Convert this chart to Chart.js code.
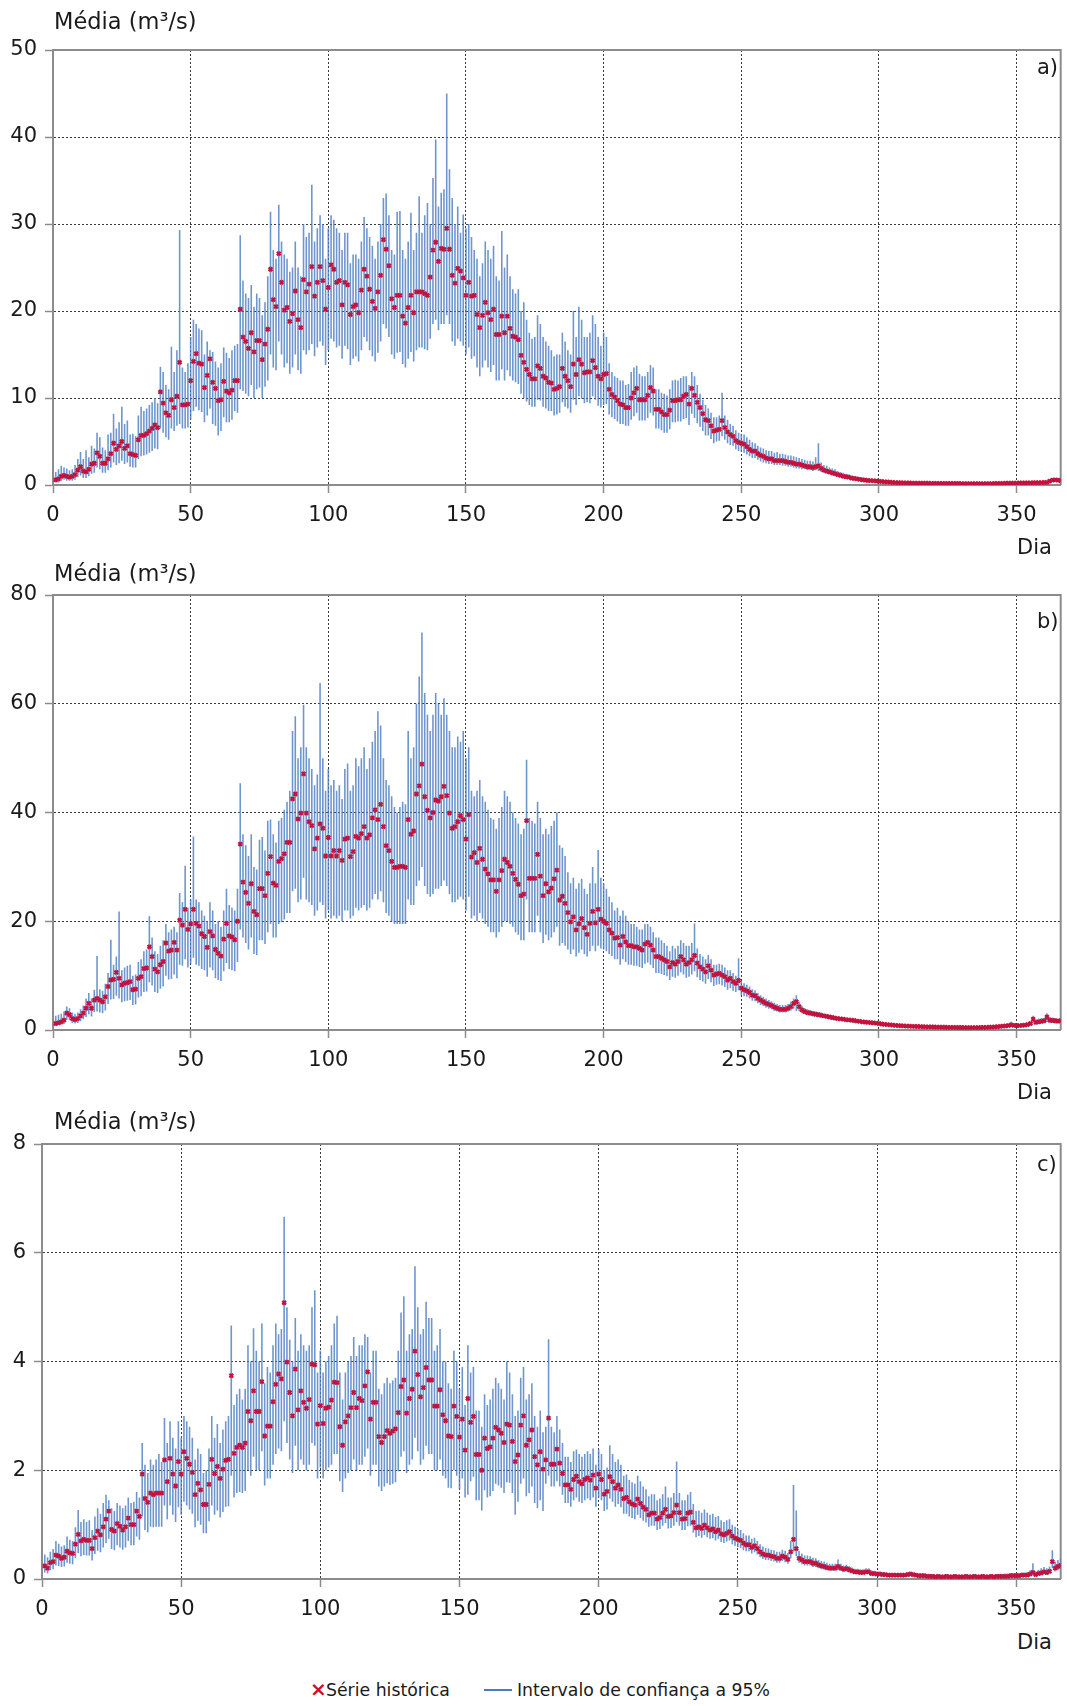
<!DOCTYPE html>
<html>
<head>
<meta charset="utf-8">
<script src="https://cdn.jsdelivr.net/npm/chart.js@4.4.1/dist/chart.umd.min.js"></script>
<style>
html,body{margin:0;padding:0;background:#fff;}
#page{position:relative;width:1067px;height:1706px;overflow:hidden;background:#fff;font-family:"DejaVu Sans",sans-serif;color:#1a1a1a;}
canvas{position:absolute;left:0;}
.lbl{position:absolute;white-space:nowrap;font-size:21px;line-height:21px;}
.ttl{position:absolute;white-space:nowrap;font-size:22.5px;line-height:22px;}
.leg{position:absolute;white-space:nowrap;font-size:17.3px;line-height:18px;}
</style>
</head>
<body>
<div id="page">
<canvas id="ca" width="1067" height="525" style="top:0px"></canvas>
<canvas id="cb" width="1067" height="525" style="top:545px"></canvas>
<canvas id="cc" width="1067" height="525" style="top:1094px"></canvas>

<div class="ttl" style="left:54px;top:10px">Média (m³/s)</div>
<div class="lbl" style="left:1017px;top:537px">Dia</div>
<div class="lbl" style="left:1037px;top:57px">a)</div>

<div class="ttl" style="left:54px;top:562px">Média (m³/s)</div>
<div class="lbl" style="left:1017px;top:1082px">Dia</div>
<div class="lbl" style="left:1037px;top:611px">b)</div>

<div class="ttl" style="left:54px;top:1110px">Média (m³/s)</div>
<div class="lbl" style="left:1017px;top:1632px">Dia</div>
<div class="lbl" style="left:1037px;top:1154px">c)</div>

<div class="leg" style="left:310px;top:1679px;color:#d0101e;font-weight:bold;font-size:20px;line-height:20px">×</div>
<div class="leg" style="left:326px;top:1681px">Série histórica</div>
<div style="position:absolute;left:484px;top:1689px;width:28px;height:2px;background:#4a7cc0"></div>
<div class="leg" style="left:517px;top:1681px">Intervalo de confiança a 95%</div>
</div>

<script>
// ---------- Panel a) : mean, lower and upper 95% CI (m3/s), days 1..366 ----------
const aMean = [
0.6,0.7,1.0,1.1,1.0,0.9,1.0,1.2,1.7,2.1,
1.6,1.5,1.8,2.4,2.5,3.7,3.3,2.5,2.5,3.0,
3.6,4.8,4.1,4.5,5.0,4.2,4.5,3.6,3.5,3.4,
5.2,5.7,5.7,5.9,6.2,6.5,6.9,6.6,10.7,9.4,
8.3,8.0,9.8,8.9,10.2,14.1,9.2,9.2,9.3,12.0,
14.2,15.1,14.0,13.9,11.2,12.6,14.5,11.8,11.1,9.7,
9.8,11.9,10.8,10.6,10.9,12.0,12.0,20.2,17.0,16.5,
15.7,17.5,15.3,16.6,16.6,14.4,16.2,17.9,24.8,21.3,
20.5,26.6,23.3,20.1,20.4,18.8,19.7,22.3,19.0,18.1,
23.6,22.2,23.1,25.1,21.7,23.3,25.1,23.5,20.2,22.7,
25.3,24.8,23.3,23.5,20.7,23.3,23.0,19.6,20.5,20.7,
19.8,22.4,24.8,24.0,22.5,21.1,20.3,22.2,24.1,28.2,
27.1,25.2,21.4,20.4,21.8,21.8,19.4,18.6,20.4,21.8,
19.8,22.2,22.2,22.2,22.0,21.8,23.9,27.0,27.9,25.7,
27.2,27.1,29.5,27.1,24.1,23.2,24.9,24.6,23.8,21.8,
23.3,21.7,21.8,19.6,18.1,19.5,21.0,19.8,19.0,20.2,
17.3,17.3,19.4,17.5,19.4,18.0,17.1,17.0,16.7,14.9,
14.1,13.3,12.7,12.2,12.2,13.7,13.4,12.5,12.3,11.8,
11.7,11.0,11.1,11.3,13.4,12.5,12.0,11.3,13.9,12.7,
14.4,13.9,12.9,13.0,13.0,14.3,13.5,12.5,12.2,12.7,
12.8,11.0,10.4,10.1,9.7,9.3,9.2,8.9,8.9,10.0,
10.6,11.1,9.8,9.8,9.8,10.3,11.2,10.8,8.7,8.7,
8.4,8.1,8.1,8.6,9.7,9.7,9.8,9.8,10.2,10.4,
9.3,11.1,10.3,9.5,8.9,8.2,7.5,7.4,6.8,6.2,
6.3,6.4,7.4,6.6,6.1,5.8,5.6,5.1,4.9,4.8,
4.7,4.4,4.1,3.9,3.9,3.6,3.4,3.3,3.1,3.0,
3.0,2.8,2.8,2.8,2.8,2.7,2.6,2.6,2.5,2.4,
2.4,2.3,2.2,2.1,2.1,2.0,2.1,2.2,1.9,1.7,
1.6,1.5,1.4,1.3,1.2,1.1,1.0,0.95,0.9,0.8,
0.75,0.7,0.65,0.6,0.55,0.52,0.5,0.48,0.46,0.42,
0.4,0.37,0.35,0.32,0.3,0.28,0.27,0.26,0.25,0.24,
0.23,0.22,0.22,0.21,0.21,0.2,0.2,0.2,0.19,0.19,
0.19,0.18,0.18,0.18,0.18,0.17,0.17,0.17,0.17,0.16,
0.16,0.16,0.16,0.15,0.15,0.15,0.15,0.15,0.16,0.16,
0.16,0.17,0.17,0.18,0.19,0.2,0.2,0.21,0.22,0.22,
0.23,0.23,0.24,0.25,0.25,0.26,0.27,0.27,0.28,0.29,
0.3,0.45,0.55,0.58,0.56,0.5];
const aLow = [
0.3,0.3,0.5,0.6,0.5,0.5,0.5,0.6,0.9,1.1,
0.8,0.8,1.0,1.3,1.4,2.0,1.8,1.4,1.4,1.7,
2.0,2.6,2.3,2.5,2.8,2.4,2.6,2.1,2.0,2.0,
3.0,3.3,3.4,3.5,3.7,3.9,4.2,4.1,6.5,6.0,
5.5,5.2,6.5,6.2,6.8,7.0,6.5,6.5,6.6,7.5,
8.5,9.0,8.6,8.4,7.2,8.0,8.8,7.0,6.8,5.7,
6.2,7.8,7.2,7.2,7.5,8.5,8.3,11.0,10.8,10.5,
10.2,11.5,10.0,11.0,11.2,10.0,11.3,12.0,15.0,13.5,
13.2,16.5,15.0,13.5,14.0,12.8,13.5,15.0,13.2,12.8,
15.5,15.0,15.5,16.2,14.8,15.8,16.5,16.0,13.8,15.5,
16.8,16.5,15.8,16.0,14.5,16.0,15.6,13.8,14.5,14.8,
14.2,15.5,17.0,16.5,15.5,14.8,14.2,15.2,16.5,18.5,
18.0,17.0,15.0,14.5,15.2,15.3,13.9,13.5,14.5,15.3,
14.2,15.5,15.8,15.8,15.6,15.5,16.8,18.5,19.0,17.8,
18.5,18.5,19.5,18.5,16.5,16.0,16.8,16.5,16.0,15.0,
15.8,14.5,14.8,13.5,12.5,13.5,14.3,13.5,13.0,13.8,
12.0,12.0,13.3,12.0,13.2,12.5,12.0,11.8,11.6,10.5,
10.0,9.6,9.2,9.0,9.0,9.8,9.7,9.0,8.8,8.5,
8.5,8.0,8.1,8.3,9.5,9.0,8.8,8.3,9.8,9.2,
10.2,9.9,9.4,9.5,9.4,10.2,9.8,9.1,8.9,9.2,
9.3,8.1,7.8,7.6,7.3,7.0,7.0,6.8,6.8,7.5,
7.9,8.3,7.4,7.4,7.4,7.7,8.3,8.0,6.5,6.5,
6.3,6.0,6.0,6.4,7.2,7.2,7.3,7.3,7.6,7.7,
6.9,8.2,7.7,7.1,6.7,6.2,5.7,5.7,5.3,4.8,
5.0,5.1,5.6,5.2,4.8,4.6,4.5,4.1,3.9,3.8,
3.7,3.5,3.3,3.1,3.1,2.9,2.7,2.6,2.5,2.4,
2.4,2.3,2.3,2.3,2.2,2.2,2.1,2.1,2.0,1.9,
1.9,1.8,1.8,1.7,1.7,1.6,1.7,1.6,1.5,1.4,
1.3,1.2,1.1,1.0,0.95,0.88,0.8,0.75,0.7,0.65,
0.6,0.56,0.52,0.48,0.44,0.42,0.4,0.38,0.36,0.33,
0.31,0.29,0.27,0.25,0.23,0.22,0.21,0.2,0.19,0.18,
0.17,0.17,0.16,0.16,0.15,0.15,0.15,0.14,0.14,0.14,
0.13,0.13,0.13,0.13,0.13,0.12,0.12,0.12,0.12,0.11,
0.11,0.11,0.11,0.1,0.1,0.1,0.1,0.1,0.11,0.11,
0.11,0.12,0.12,0.13,0.14,0.14,0.15,0.15,0.16,0.16,
0.17,0.17,0.18,0.18,0.19,0.19,0.2,0.2,0.21,0.22,
0.23,0.32,0.4,0.42,0.4,0.36];
const aHigh = [
1.5,1.8,2.2,2.0,1.9,1.7,1.8,2.3,3.0,3.8,
3.0,4.0,3.2,4.5,4.2,6.0,5.5,4.3,4.0,5.8,
6.0,8.2,6.5,7.2,9.0,7.0,7.4,5.8,5.9,5.6,
8.0,9.0,8.5,8.8,9.2,9.5,10.0,9.4,13.6,13.0,
11.5,11.0,15.9,13.0,15.5,29.3,13.5,13.0,14.0,17.0,
19.0,18.5,18.0,17.8,15.0,16.5,15.5,15.3,14.2,13.5,
14.0,15.8,15.2,14.6,15.5,16.0,16.2,28.7,23.5,22.0,
21.5,23.0,20.5,22.0,21.5,19.5,21.0,24.0,31.4,27.0,
26.0,32.2,28.0,26.5,26.0,24.5,25.0,28.0,25.0,24.0,
30.0,28.5,29.0,34.5,28.0,29.5,31.0,30.0,26.0,29.5,
31.0,30.5,29.5,29.0,27.0,29.0,29.0,25.5,26.5,26.5,
26.0,28.0,30.8,29.5,28.5,27.5,26.0,28.0,30.0,33.0,
33.5,31.0,27.0,26.5,31.4,31.5,27.0,26.0,28.0,31.3,
27.0,29.0,33.2,29.0,31.0,32.4,30.0,35.3,39.7,32.0,
33.6,34.0,45.0,36.3,33.0,30.0,32.0,29.0,31.1,29.5,
30.0,28.5,27.0,26.0,24.0,25.5,28.0,27.0,26.0,27.5,
24.0,23.5,29.2,25.0,26.5,24.0,22.5,22.0,22.5,20.0,
21.0,19.0,17.5,16.8,17.0,19.5,18.5,17.0,16.5,16.0,
15.5,14.8,15.0,15.0,17.5,16.5,15.5,15.0,20.0,17.0,
20.5,19.0,17.0,17.0,17.5,19.5,18.5,17.0,16.0,17.5,
17.0,14.0,13.0,12.5,12.3,12.0,12.0,11.5,11.6,13.0,
13.5,13.7,12.8,12.5,12.5,13.0,13.8,13.5,11.0,11.0,
10.6,10.5,10.3,11.0,12.0,12.1,12.0,12.3,12.5,12.5,
11.5,13.0,12.5,11.5,10.5,9.8,9.2,8.8,8.3,7.8,
7.8,8.0,10.6,8.0,7.5,7.0,6.8,6.3,6.0,5.9,
5.8,5.5,5.2,4.9,4.8,4.5,4.3,4.2,4.0,3.9,
3.9,3.7,3.8,3.6,3.6,3.5,3.4,3.4,3.3,3.2,
3.1,3.0,2.9,2.8,2.8,2.7,3.2,4.8,2.6,2.3,
2.2,2.0,1.9,1.8,1.6,1.5,1.4,1.3,1.2,1.1,
1.0,0.95,0.9,0.85,0.8,0.75,0.72,0.7,0.66,0.62,
0.58,0.55,0.52,0.5,0.47,0.45,0.43,0.42,0.4,0.38,
0.37,0.36,0.35,0.34,0.33,0.32,0.32,0.31,0.3,0.3,
0.3,0.29,0.29,0.28,0.28,0.27,0.27,0.27,0.26,0.26,
0.26,0.25,0.25,0.25,0.25,0.24,0.24,0.25,0.25,0.26,
0.26,0.27,0.28,0.29,0.3,0.31,0.32,0.33,0.34,0.35,
0.36,0.36,0.37,0.38,0.38,0.39,0.4,0.41,0.42,0.44,
0.46,0.65,0.78,0.8,0.78,0.7];

// ---------- Panel b) ----------
const bMean = [
1.2,1.3,1.5,1.8,3.1,2.8,2.1,1.9,2.1,2.6,
3.1,4.0,4.9,4.0,5.5,5.8,5.5,5.2,6.1,8.0,
9.2,9.3,10.6,9.5,8.3,8.6,8.7,8.9,7.4,7.5,
9.5,9.8,11.3,11.4,15.3,13.5,11.2,10.7,12.0,12.6,
16.0,14.5,14.7,16.1,14.7,20.2,19.3,22.2,18.5,19.5,
22.2,19.6,19.1,17.7,17.2,15.2,18.1,17.3,14.8,14.1,
13.6,16.7,19.6,17.3,17.1,16.6,20.0,34.2,27.2,25.3,
23.3,26.9,21.8,21.2,26.0,26.0,24.7,28.8,31.9,27.0,
26.6,31.0,31.5,32.4,34.5,34.5,42.5,43.4,38.8,39.9,
47.1,39.9,38.3,37.6,33.3,35.3,37.9,37.1,32.0,35.4,
32.0,33.0,32.0,33.0,31.2,35.1,35.3,31.9,32.8,35.6,
35.3,36.1,37.4,35.3,35.9,39.0,40.5,38.7,41.5,37.4,
33.9,33.0,31.0,29.9,29.9,30.1,30.1,29.9,38.7,36.0,
36.6,43.4,44.9,48.9,42.9,40.4,39.0,40.0,42.3,42.1,
42.9,44.8,43.1,39.9,37.1,37.4,38.3,39.4,38.7,35.1,
39.6,31.8,32.6,30.8,33.4,31.4,29.6,28.7,27.6,27.6,
25.5,27.6,29.3,31.4,30.8,30.1,28.8,27.7,26.8,24.7,
25.0,38.5,27.9,27.9,27.9,32.3,28.3,24.7,26.9,25.4,
26.1,27.8,29.4,23.9,24.6,23.3,21.6,19.9,20.8,18.4,
19.5,20.5,18.8,17.6,19.6,21.8,19.7,22.2,20.4,20.0,
19.6,18.4,17.8,16.9,17.0,15.6,17.2,16.2,15.5,15.5,
15.3,15.3,15.0,14.7,15.8,16.1,15.6,14.7,13.5,13.5,
13.2,12.9,12.6,11.6,12.4,12.1,12.6,13.5,12.9,12.1,
12.4,12.9,13.7,12.3,11.6,11.2,10.7,11.8,11.0,10.1,
10.3,10.4,10.1,9.8,9.2,9.5,8.9,8.6,9.1,7.7,
7.4,7.2,6.9,6.4,6.3,5.8,5.5,5.2,4.9,4.7,
4.5,4.2,4.0,3.8,3.8,3.8,4.0,4.3,4.9,5.2,
4.3,3.7,3.4,3.2,3.1,3.0,2.9,2.8,2.7,2.6,
2.5,2.4,2.3,2.2,2.1,2.05,2.0,1.9,1.85,1.8,
1.75,1.65,1.6,1.5,1.45,1.4,1.35,1.3,1.25,1.2,
1.1,1.05,1.0,0.95,0.9,0.85,0.82,0.78,0.75,0.72,
0.7,0.68,0.66,0.64,0.62,0.6,0.58,0.57,0.56,0.55,
0.54,0.53,0.52,0.51,0.5,0.49,0.48,0.47,0.46,0.46,
0.45,0.45,0.45,0.44,0.45,0.45,0.46,0.48,0.5,0.52,
0.54,0.56,0.6,0.65,0.7,0.75,0.8,0.95,0.85,0.8,
0.82,0.85,0.9,1.0,1.2,2.0,1.4,1.5,1.6,1.7,
2.4,1.8,1.75,1.7,1.65,1.7];
const bLow = [
0.8,0.9,1.0,1.1,1.9,1.8,1.3,1.2,1.3,1.6,
2.0,2.4,2.9,2.5,3.3,3.4,3.2,3.1,3.6,4.8,
5.6,5.7,6.3,5.8,5.1,5.3,5.4,5.5,4.6,4.7,
6.0,6.2,7.0,7.1,8.8,8.2,7.0,6.8,7.6,8.0,
10.0,9.3,9.4,10.2,9.5,12.0,11.8,13.0,11.5,12.2,
13.3,12.0,11.8,11.2,11.0,9.8,11.5,11.0,9.5,9.2,
9.0,10.8,12.3,11.2,11.0,10.8,12.5,18.5,17.0,16.0,
14.8,17.0,14.0,13.8,16.5,16.5,15.8,18.0,19.5,17.0,
17.0,19.5,19.8,20.3,21.5,21.5,25.5,26.0,23.5,24.0,
28.0,24.0,23.5,23.0,21.0,22.0,23.5,23.0,20.5,22.0,
20.5,21.0,20.5,21.0,20.0,22.0,22.0,20.5,21.0,22.5,
22.0,22.5,23.0,22.0,22.5,24.0,25.0,24.0,25.5,23.5,
21.5,21.0,20.0,19.5,19.5,19.5,19.5,19.5,24.0,23.0,
23.0,26.5,27.5,30.0,26.5,25.0,24.5,25.0,26.0,26.0,
26.5,27.5,26.5,25.0,23.5,23.5,24.0,24.5,24.0,22.0,
24.5,20.5,21.0,20.0,21.5,20.5,19.5,19.0,18.0,18.0,
17.0,18.0,19.0,20.0,20.0,19.5,19.0,18.0,17.5,16.5,
16.5,24.0,18.0,18.0,18.0,21.0,18.0,16.0,17.5,16.5,
17.0,18.0,19.0,15.5,16.0,15.5,14.8,14.0,14.8,13.5,
14.2,14.8,14.0,13.5,14.5,15.5,14.5,15.5,15.0,14.8,
14.5,14.0,13.6,13.0,13.0,12.0,13.0,12.5,12.0,12.0,
11.8,11.8,11.6,11.4,12.2,12.4,12.0,11.4,10.5,10.5,
10.3,10.1,9.9,9.2,9.8,9.6,10.0,10.6,10.2,9.6,
9.8,10.2,10.8,9.7,9.2,8.9,8.5,9.4,8.8,8.1,
8.3,8.4,8.2,7.9,7.4,7.7,7.2,7.0,7.3,6.4,
6.2,6.1,5.8,5.4,5.3,4.9,4.6,4.4,4.1,3.9,
3.8,3.5,3.4,3.2,3.2,3.2,3.4,3.6,3.9,3.5,
3.5,3.1,2.9,2.7,2.6,2.5,2.5,2.4,2.3,2.2,
2.1,2.0,1.9,1.8,1.8,1.7,1.6,1.5,1.5,1.4,
1.4,1.3,1.3,1.2,1.2,1.1,1.1,1.0,1.0,0.95,
0.9,0.85,0.8,0.75,0.72,0.68,0.65,0.62,0.6,0.58,
0.56,0.54,0.52,0.5,0.5,0.48,0.46,0.45,0.44,0.43,
0.42,0.41,0.4,0.39,0.38,0.37,0.36,0.36,0.35,0.35,
0.34,0.34,0.34,0.34,0.35,0.35,0.36,0.37,0.38,0.39,
0.4,0.42,0.45,0.5,0.55,0.58,0.6,0.65,0.62,0.6,
0.62,0.65,0.7,0.75,0.85,1.2,1.0,1.1,1.2,1.25,
1.5,1.3,1.3,1.2,1.2,1.3];
const bHigh = [
2.6,2.8,3.0,3.4,4.3,4.0,3.2,3.0,3.2,3.8,
4.5,5.8,6.8,5.8,7.4,13.6,7.5,7.2,8.5,10.5,
16.6,12.0,13.5,21.8,11.0,11.5,11.8,12.0,10.0,10.2,
12.5,13.0,14.5,14.8,20.9,17.0,14.5,14.0,15.5,16.5,
19.5,18.0,18.5,19.0,18.0,25.2,23.5,30.2,22.5,24.0,
35.6,24.0,23.5,22.0,21.0,20.0,23.5,22.0,19.5,20.0,
19.0,22.0,26.0,23.0,22.5,22.0,26.0,45.4,36.0,34.0,
32.0,36.0,30.0,29.5,35.0,35.5,33.0,38.5,38.7,36.0,
34.5,38.5,39.0,40.5,42.0,44.0,55.0,57.7,50.0,52.0,
59.8,52.0,50.0,48.0,45.0,47.0,63.8,50.0,44.0,48.0,
45.0,46.0,44.0,45.0,42.5,48.0,49.0,44.0,45.0,50.0,
48.5,50.0,52.0,48.0,50.0,53.0,55.0,58.6,56.0,50.0,
46.0,45.0,43.0,41.0,40.0,41.0,42.0,41.5,55.0,50.0,
52.0,60.0,65.0,73.1,62.0,58.0,55.0,58.0,62.0,60.0,
58.0,61.0,58.0,55.0,52.0,52.0,54.0,53.0,55.0,50.0,
52.0,44.0,43.0,44.0,46.0,43.0,42.0,40.5,39.0,38.7,
37.0,39.0,41.0,44.0,43.0,42.0,40.0,39.0,38.0,36.0,
37.0,49.7,39.0,38.5,38.0,42.0,39.0,36.0,37.0,36.0,
37.5,38.5,40.0,34.0,33.5,32.0,29.0,27.0,28.0,26.0,
27.0,27.8,26.0,25.0,27.0,30.0,27.0,33.1,28.0,27.0,
26.0,24.5,23.5,22.0,22.5,21.0,22.0,21.0,20.0,19.5,
19.5,19.0,18.5,18.5,19.5,19.5,19.0,18.0,17.0,17.0,
16.5,16.0,15.5,14.5,15.5,15.0,15.5,16.5,16.0,15.5,
15.5,16.0,19.6,15.0,14.0,13.5,13.0,13.8,13.0,12.0,
12.0,12.2,12.0,11.5,11.0,11.0,10.5,10.0,13.2,9.0,
8.6,8.3,8.0,7.5,7.3,6.8,6.4,6.1,5.8,5.5,
5.3,5.0,4.8,4.6,4.6,4.6,4.8,5.2,5.8,6.4,
5.2,4.4,4.0,3.8,3.7,3.5,3.4,3.3,3.2,3.0,
2.9,2.8,2.7,2.6,2.5,2.4,2.3,2.2,2.1,2.0,
2.0,1.9,1.8,1.8,1.7,1.6,1.6,1.5,1.5,1.4,
1.3,1.3,1.2,1.1,1.1,1.0,1.0,0.95,0.9,0.9,
0.85,0.85,0.8,0.8,0.8,0.75,0.75,0.72,0.7,0.7,
0.7,0.68,0.65,0.65,0.62,0.62,0.6,0.6,0.6,0.58,
0.58,0.58,0.56,0.56,0.58,0.58,0.6,0.62,0.65,0.68,
0.7,0.75,0.8,0.9,1.0,1.1,1.2,1.5,1.2,1.1,
1.1,1.2,1.3,1.4,1.5,2.6,2.0,2.1,2.2,2.2,
3.1,2.4,2.3,2.2,2.1,2.2];

// ---------- Panel c) ----------
const cMean = [
0.24,0.2,0.3,0.32,0.44,0.42,0.38,0.4,0.51,0.48,
0.47,0.64,0.82,0.7,0.73,0.71,0.71,0.56,0.76,0.88,
0.81,0.96,1.1,1.25,0.91,0.88,1.02,0.97,0.9,0.96,
1.12,1.0,1.0,1.25,1.15,1.93,1.48,1.41,1.58,1.55,
1.58,1.58,1.58,2.19,1.79,2.22,1.93,1.71,2.16,1.93,
2.34,2.22,2.11,1.96,1.55,1.76,1.64,1.37,1.37,1.74,
2.2,1.94,2.07,1.85,2.02,2.18,2.2,3.74,2.31,2.42,
2.46,2.42,2.5,3.08,2.91,3.46,3.08,3.08,3.63,2.63,
2.81,2.81,3.26,3.58,3.77,3.68,5.08,3.99,3.43,3.0,
3.86,3.11,3.46,3.25,3.14,3.3,3.95,3.94,2.85,3.19,
2.86,3.14,3.16,3.29,3.62,3.61,2.8,2.46,2.89,3.0,
3.15,3.43,3.15,3.32,3.28,3.55,3.81,2.94,3.25,3.25,
2.62,2.51,2.62,2.73,2.68,2.72,2.76,3.06,3.54,3.66,
3.05,3.32,3.49,4.19,3.76,3.35,3.52,3.89,3.66,3.66,
3.18,3.18,3.48,3.02,2.91,2.63,2.62,3.18,2.99,2.61,
2.94,2.37,3.32,2.88,2.99,2.29,2.29,2.0,2.59,2.4,
2.43,2.59,2.79,2.74,2.68,2.51,2.85,2.83,2.53,2.16,
2.28,2.83,3.0,2.46,2.56,2.74,2.25,2.1,2.34,2.02,
2.19,2.96,2.11,2.11,2.39,2.13,1.94,1.73,1.73,1.65,
1.83,1.89,1.79,1.75,1.83,1.86,1.82,1.91,1.67,1.93,
1.83,1.56,1.61,1.88,1.79,1.67,1.73,1.65,1.48,1.5,
1.42,1.38,1.36,1.47,1.39,1.32,1.28,1.18,1.21,1.21,
1.1,1.13,1.21,1.28,1.15,1.16,1.22,1.36,1.22,1.1,
1.11,1.21,1.23,1.04,0.94,0.96,0.93,0.99,0.94,0.9,
0.92,0.87,0.9,0.83,0.81,0.84,0.87,0.79,0.75,0.73,
0.71,0.66,0.63,0.63,0.58,0.61,0.56,0.5,0.46,0.44,
0.44,0.42,0.41,0.38,0.38,0.42,0.4,0.36,0.5,0.73,
0.56,0.38,0.35,0.32,0.32,0.32,0.29,0.29,0.26,0.24,
0.23,0.21,0.2,0.2,0.2,0.23,0.2,0.18,0.19,0.17,
0.15,0.13,0.13,0.12,0.12,0.13,0.13,0.1,0.1,0.09,
0.09,0.08,0.08,0.07,0.07,0.07,0.07,0.07,0.07,0.07,
0.08,0.09,0.08,0.07,0.06,0.06,0.06,0.05,0.05,0.05,
0.04,0.05,0.04,0.04,0.05,0.04,0.04,0.05,0.04,0.04,
0.04,0.05,0.04,0.04,0.05,0.04,0.04,0.05,0.04,0.04,
0.05,0.04,0.05,0.05,0.05,0.05,0.05,0.06,0.06,0.06,
0.06,0.07,0.07,0.07,0.09,0.12,0.08,0.1,0.11,0.13,
0.12,0.14,0.32,0.2,0.23,0.25];
const cLow = [
0.12,0.1,0.16,0.18,0.25,0.24,0.22,0.23,0.3,0.28,
0.27,0.38,0.48,0.42,0.44,0.43,0.43,0.34,0.46,0.52,
0.49,0.58,0.66,0.74,0.55,0.53,0.62,0.58,0.54,0.58,
0.7,0.62,0.62,0.78,0.72,1.15,0.9,0.86,0.96,0.95,
0.96,0.96,0.96,1.35,1.1,1.35,1.18,1.05,1.32,1.18,
1.42,1.35,1.28,1.2,0.95,1.07,1.0,0.84,0.84,1.06,
1.35,1.18,1.26,1.13,1.23,1.33,1.34,1.9,1.5,1.58,
1.6,1.58,1.62,2.0,1.9,2.25,2.0,2.0,2.35,1.72,
1.85,1.85,2.1,2.3,2.4,2.35,2.9,2.5,2.2,1.95,
2.45,2.0,2.2,2.1,2.0,2.1,2.5,2.45,1.85,2.05,
1.85,2.0,2.05,2.1,2.3,2.3,1.8,1.6,1.85,1.95,
2.0,2.2,2.0,2.1,2.1,2.25,2.4,1.9,2.1,2.1,
1.7,1.62,1.7,1.76,1.73,1.75,1.78,1.98,2.25,2.35,
1.95,2.1,2.2,2.6,2.35,2.1,2.2,2.45,2.3,2.3,
2.0,2.0,2.2,1.9,1.85,1.68,1.67,2.0,1.9,1.65,
1.85,1.5,1.55,1.8,1.88,1.45,1.45,1.26,1.63,1.5,
1.52,1.62,1.75,1.72,1.68,1.58,1.78,1.77,1.58,1.18,
1.42,1.75,1.85,1.52,1.58,1.7,1.4,1.3,1.45,1.25,
1.75,1.9,1.7,1.7,1.8,1.7,1.55,1.4,1.4,1.33,
1.45,1.5,1.42,1.4,1.45,1.48,1.45,1.5,1.33,1.5,
1.45,1.25,1.28,1.48,1.42,1.33,1.38,1.32,1.2,1.2,
1.15,1.12,1.1,1.18,1.12,1.07,1.04,0.96,0.98,0.98,
0.9,0.92,0.98,1.03,0.93,0.94,0.98,1.05,0.98,0.9,
0.9,0.97,0.98,0.85,0.77,0.79,0.76,0.81,0.77,0.74,
0.75,0.71,0.74,0.68,0.66,0.69,0.71,0.64,0.61,0.59,
0.57,0.53,0.51,0.51,0.47,0.49,0.45,0.4,0.37,0.35,
0.35,0.33,0.32,0.3,0.3,0.33,0.31,0.28,0.38,0.5,
0.42,0.3,0.27,0.25,0.25,0.25,0.22,0.22,0.2,0.18,
0.17,0.16,0.15,0.15,0.15,0.17,0.15,0.13,0.14,0.12,
0.11,0.09,0.09,0.09,0.09,0.1,0.1,0.07,0.07,0.06,
0.06,0.05,0.05,0.05,0.05,0.05,0.05,0.05,0.05,0.05,
0.05,0.06,0.05,0.05,0.04,0.04,0.04,0.03,0.03,0.03,
0.02,0.03,0.02,0.02,0.03,0.02,0.02,0.03,0.02,0.02,
0.02,0.03,0.02,0.02,0.03,0.02,0.02,0.03,0.02,0.02,
0.03,0.02,0.03,0.03,0.03,0.03,0.03,0.04,0.04,0.04,
0.04,0.05,0.05,0.05,0.06,0.08,0.05,0.07,0.08,0.09,
0.08,0.1,0.2,0.14,0.16,0.17];
const cHigh = [
0.45,0.4,0.5,0.55,0.7,0.65,0.6,0.62,0.78,0.72,
0.7,0.95,1.27,1.05,1.1,1.05,1.08,0.9,1.15,1.3,
1.2,1.4,1.55,1.45,1.3,1.25,1.4,1.35,1.3,1.35,
1.5,1.4,1.42,1.6,1.5,2.5,2.1,1.95,2.2,2.1,
2.2,2.3,2.15,2.96,2.5,2.9,2.6,2.4,2.9,2.6,
3.0,2.9,2.8,2.6,2.2,2.4,2.3,1.95,2.0,2.4,
3.0,2.6,2.85,2.5,2.75,2.9,3.0,4.66,3.2,3.4,
3.5,3.3,3.5,4.3,4.0,4.61,4.2,4.0,4.7,3.6,
3.9,3.8,4.3,4.7,4.5,4.6,6.66,5.0,4.4,4.0,
4.8,4.2,4.5,4.3,4.2,4.3,5.0,5.31,3.8,4.2,
3.8,4.0,4.1,4.3,4.7,4.84,3.8,3.3,3.8,4.0,
4.1,4.45,4.1,4.3,4.3,4.5,4.45,3.8,4.2,4.2,
3.5,3.4,3.6,3.7,3.6,3.65,3.7,4.2,4.9,5.2,
4.2,4.5,4.6,5.75,5.0,4.5,4.6,5.1,4.8,4.8,
4.2,4.3,4.6,4.0,4.0,3.6,3.5,4.2,4.0,3.5,
3.9,3.2,4.3,3.8,3.9,3.1,3.1,2.8,3.4,3.2,
3.3,3.5,3.7,3.6,3.5,3.3,4.0,3.8,3.4,3.0,
3.1,3.7,3.9,3.3,3.4,3.6,3.0,2.8,3.1,2.7,
2.8,4.41,2.8,2.7,3.0,2.75,2.5,2.25,2.25,2.15,
2.35,2.38,2.3,2.25,2.3,2.35,2.3,2.4,2.1,2.38,
2.3,2.0,2.05,2.46,2.3,2.15,2.2,2.1,1.9,1.92,
1.82,1.78,1.75,1.9,1.8,1.7,1.65,1.52,1.56,1.56,
1.45,1.48,1.56,1.7,1.5,1.5,1.58,2.16,1.58,1.45,
1.45,1.55,1.6,1.38,1.25,1.26,1.22,1.28,1.22,1.18,
1.2,1.14,1.16,1.08,1.05,1.08,1.1,1.0,0.96,0.92,
0.9,0.84,0.8,0.8,0.74,0.76,0.7,0.64,0.6,0.57,
0.56,0.54,0.53,0.5,0.5,0.54,0.52,0.48,0.7,1.73,
1.26,0.52,0.47,0.43,0.43,0.42,0.39,0.38,0.35,0.33,
0.32,0.3,0.28,0.28,0.28,0.36,0.28,0.25,0.26,0.24,
0.21,0.19,0.19,0.18,0.18,0.2,0.2,0.16,0.15,0.14,
0.14,0.13,0.12,0.11,0.11,0.11,0.11,0.11,0.11,0.11,
0.13,0.14,0.12,0.11,0.1,0.1,0.1,0.09,0.09,0.09,
0.08,0.09,0.08,0.08,0.09,0.08,0.08,0.09,0.08,0.08,
0.08,0.09,0.08,0.08,0.09,0.08,0.08,0.09,0.08,0.08,
0.09,0.08,0.09,0.09,0.09,0.1,0.1,0.11,0.11,0.11,
0.11,0.12,0.12,0.13,0.16,0.29,0.14,0.17,0.2,0.22,
0.2,0.23,0.53,0.32,0.35,0.38];

// axis settings
const xMax = 366, xStep = 50;
const aY = {max: 50, step: 10};
const bY = {max: 80, step: 20};
const cY = {max: 8, step: 2};

const FONT = '"DejaVu Sans", sans-serif';
const AXIS_GREY = '#8c8c8c';

const framePlugin = {
  id: 'frame',
  beforeDatasetsDraw(chart) {
    const a = chart.chartArea, ctx = chart.ctx;
    ctx.save();
    ctx.strokeStyle = AXIS_GREY;
    ctx.lineWidth = 2;
    ctx.beginPath();
    ctx.moveTo(a.left, a.top);
    ctx.lineTo(a.right, a.top);
    ctx.lineTo(a.right, a.bottom);
    ctx.stroke();
    ctx.restore();
  }
};

function build(id, mean, lo, hi, ycfg, axisW) {
  const marks = mean.map((v, i) => ({x: i + 1, y: v}));
  const bars = [];
  for (let i = 0; i < mean.length; i++) {
    bars.push({x: i + 1, y: lo[i]}, {x: i + 1, y: hi[i]}, {x: i + 1, y: null});
  }
  const hideEdge = (max) => (c) => (c.tick && (c.tick.value === 0 || c.tick.value === max)) ? 'rgba(0,0,0,0)' : '#3a3a3a';
  return new Chart(document.getElementById(id), {
    type: 'scatter',
    data: {
      datasets: [
        {label: 'Série histórica', data: marks, order: 1, showLine: false,
         pointStyle: 'crossRot', pointRadius: 2.6, pointBorderWidth: 2.3,
         borderColor: '#c4123c', backgroundColor: '#c4123c'},
        {label: 'Intervalo de confiança a 95%', data: bars, order: 2, showLine: true,
         spanGaps: false, pointRadius: 0, borderWidth: 1.6,
         borderColor: 'rgba(74,124,192,0.8)', backgroundColor: 'rgba(74,124,192,0.8)'}
      ]
    },
    options: {
      responsive: false, animation: false, events: [],
      layout: {padding: {top: 50, right: 3, bottom: 0, left: 0}},
      plugins: {legend: {display: false}, tooltip: {enabled: false}},
      scales: {
        x: {
          type: 'linear', min: 0, max: xMax,
          afterFit: (s) => { s.height = 40; },
          ticks: {stepSize: xStep, includeBounds: false, autoSkip: false, maxRotation: 0,
                  padding: 10, color: '#1a1a1a', font: {family: FONT, size: 21}},
          grid: {color: hideEdge(-1), lineWidth: 1, tickLength: 8, tickColor: AXIS_GREY, tickWidth: 1.5},
          border: {display: true, color: AXIS_GREY, width: 2, dash: [2, 2]}
        },
        y: {
          type: 'linear', min: 0, max: ycfg.max,
          afterFit: (s) => { s.width = axisW; },
          ticks: {stepSize: ycfg.step, includeBounds: false, padding: 8, color: '#1a1a1a',
                  font: {family: FONT, size: 21}},
          grid: {color: hideEdge(ycfg.max), lineWidth: 1, tickLength: 8, tickColor: AXIS_GREY, tickWidth: 1.5},
          border: {display: true, color: AXIS_GREY, width: 2, dash: [2, 2]}
        }
      }
    },
    plugins: [framePlugin]
  });
}

build('ca', aMean, aLow, aHigh, aY, 53);
build('cb', bMean, bLow, bHigh, bY, 53);
build('cc', cMean, cLow, cHigh, cY, 42);
</script>
</body>
</html>
